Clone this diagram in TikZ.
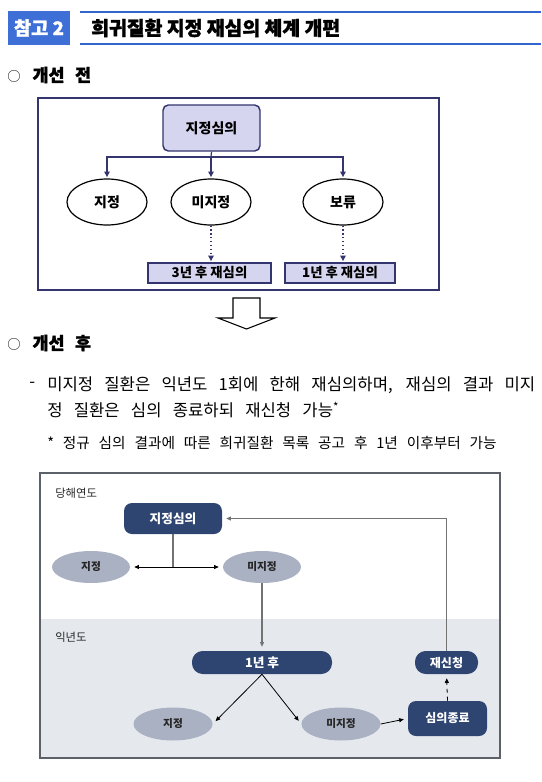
\documentclass[tikz,border=0pt]{standalone}
\usepackage{fontspec}
\setmainfont{Noto Sans CJK KR}
\newfontfamily\heavyfont{Noto Sans CJK KR}[BoldFeatures={FakeBold=1.5}]
\usetikzlibrary{arrows.meta,shapes.geometric}

\definecolor{tagblue}{HTML}{3D6FD6}
\definecolor{lineblue}{HTML}{3366CC}
\definecolor{navy}{HTML}{34346E}
\definecolor{lav}{HTML}{D5D5EF}
\definecolor{deepnavy}{HTML}{2E4471}
\definecolor{greyell}{HTML}{A9B1C2}
\definecolor{band}{HTML}{E5E9EE}
\definecolor{framegrey}{HTML}{5C6169}

\begin{document}
\begin{tikzpicture}[
            x = 0.75pt, y = -0.75pt, % one unit = one pixel, y downwards
            > = {Triangle[length=4pt,width=4pt]}, % arrow head style
            tag/.style = {fill=tagblue, text=white, minimum width=46.5pt, minimum height=25.5pt,
                          inner sep=0pt, font=\heavyfont\bfseries\fontsize{14}{15}\selectfont},
            hline/.style = {lineblue, line width=1.5pt},
            sec/.style = {anchor=west, inner sep=0pt, font=\heavyfont\bfseries\fontsize{13}{15}\selectfont},
            body/.style = {anchor=west, inner sep=0pt, font=\fontsize{12.5}{15}\selectfont},
            % before
            oldbox/.style = {draw=navy, line width=1.1pt, fill=lav, rounded corners=4pt,
                             inner sep=0pt, font=\bfseries\fontsize{10.5}{12}\selectfont},
            oldell/.style = {ellipse, draw=black, line width=0.9pt, fill=white, minimum width=60pt,
                             minimum height=34.5pt, inner sep=0pt, font=\bfseries\fontsize{10.5}{12}\selectfont},
            oldres/.style = {draw=navy, line width=0.9pt, fill=lav, minimum height=15pt,
                             inner sep=0pt, font=\bfseries\fontsize{10}{12}\selectfont},
            oldarr/.style = {->, navy, line width=0.9pt, shorten >=1pt},
            % after
            newbox/.style = {fill=deepnavy, text=white, inner sep=0pt,
                             font=\bfseries\fontsize{9}{10}\selectfont},
            newell/.style = {ellipse, fill=greyell, text=black!85, minimum width=58.5pt,
                             minimum height=24pt, inner sep=0pt, font=\bfseries\fontsize{8}{9}\selectfont},
            gline/.style = {black!55, line width=1pt},
            karr/.style = {->, black, line width=0.6pt, shorten >=3pt,
                           >={Triangle[length=3.5pt,width=3pt]}},
            year/.style = {anchor=west, inner sep=0pt, text=black!85, font=\fontsize{8.5}{10}\selectfont}
        ]

% header
\node[tag] (tag) at (39,28) {참고 2};
\draw[hline] (80,12) -- (541,12);
\draw[hline] (80,44) -- (541,44);
\node[anchor=west, inner sep=0pt, font=\heavyfont\bfseries\fontsize{14.5}{16}\selectfont] (title) at (91,28) {희귀질환 지정 재심의 체계 개편};

% before
\node[sec] (before) at (7,75) {{\mdseries\fontsize{10}{12}\selectfont ○}\hspace{9pt}개선\hspace{5pt} 전};
\draw[navy, line width=1.1pt] (38,98) rectangle (439,290);

\node[oldbox, minimum width=72.75pt, minimum height=34.5pt] (rev1) at (211.5,128) {지정심의};
\node[oldell] (e1) at (107,202) {지정};
\node[oldell] (e2) at (211,202) {미지정};
\node[oldell] (e3) at (343,202) {보류};
\node[oldres, minimum width=92.25pt] (b3) at (209.5,273) {3년 후 재심의};
\node[oldres, minimum width=82.5pt] (b1) at (340,273) {1년 후 재심의};

\coordinate (bar) at (211,157);
\draw[navy, line width=0.9pt] (rev1.south) -- (bar);
\draw[oldarr] (bar) -| (e1.north);
\draw[oldarr] (bar) -- (e2.north);
\draw[oldarr] (bar) -| (e3.north);
\draw[oldarr, dotted] (e2.south) -- (e2.south |- b3.north);
\draw[oldarr, dotted] (e3.south) -- (e3.south |- b1.north);

% hollow arrow
\draw[black, line width=0.8pt, fill=white] (233,298) -- (260,298) -- (260,318) -- (275,318)
    -- (246.5,329) -- (218,318) -- (233,318) -- cycle;

% after
\node[sec] (after) at (7,343) {{\mdseries\fontsize{10}{12}\selectfont ○}\hspace{9pt}개선\hspace{5pt} 후};
\node[body] (dash) at (29,385) {-};
\node[body] (line1) at (47,385) {\makebox[366pt][s]{미지정 질환은 익년도 1회에 한해 재심의하며, 재심의 결과 미지}};
\node[body] (line2) at (47,410) {\makebox[219pt][s]{정 질환은 심의 종료하되 재신청 가능\textsuperscript{*}}};
\node[body, font=\fontsize{11}{13}\selectfont] (note) at (47,443) {\makebox[337pt][s]{* 정규 심의 결과에 따른 희귀질환 목록 공고 후 1년 이후부터 가능}};

\fill[band] (40,619) rectangle (500,758);
\draw[framegrey, line width=0.9pt] (40,473) rectangle (500,758);
\node[year] (cur) at (55,493) {당해연도};
\node[year] (next) at (55,637) {익년도};

\node[newbox, rounded corners=6pt, minimum width=73.5pt, minimum height=23.25pt,
      font=\bfseries\fontsize{9.5}{10}\selectfont] (rev2) at (173,518.5) {지정심의};
\node[newell] (d2) at (91,567) {지정};
\node[newell] (nd2) at (262,567) {미지정};
\node[newbox, rounded corners=8pt, minimum width=105pt, minimum height=17.25pt,
      font=\bfseries\fontsize{9.5}{10}\selectfont] (later) at (262,662.5) {1년 후};
\node[newbox, rounded corners=8pt, minimum width=47.25pt, minimum height=17.25pt] (reapp) at (446.5,662.5) {재신청};
\node[newbox, rounded corners=6pt, minimum width=59.25pt, minimum height=26.25pt] (closed) at (447.5,718.5) {심의종료};
\node[newell, minimum width=59.25pt, minimum height=24.75pt] (d3) at (173,724) {지정};
\node[newell, minimum width=59.25pt, minimum height=24.75pt] (nd3) at (341,724) {미지정};

\coordinate (split) at (173,567);
\draw[gline] (rev2.south) -- (split);
\draw[karr] (split) -- (d2.east);
\draw[karr] (split) -- (nd2.west);
\draw[gline, ->, shorten >=3pt, >={Triangle[length=3.5pt,width=3pt]}] (nd2.south) -- (later.north);
\draw[karr] (later.south) -- (d3.east);
\draw[karr] (later.south) -- (nd3.west);
\draw[karr] (nd3.east) -- (closed.west);
\draw[karr, dashed] (closed.north) -- (reapp.south);
\draw[gline, ->, shorten >=3pt, >={Triangle[length=3.5pt,width=3pt]}] (reapp.north) |- (rev2.east);

\useasboundingbox (0,0) rectangle (541,782);
\end{tikzpicture}
\end{document}
